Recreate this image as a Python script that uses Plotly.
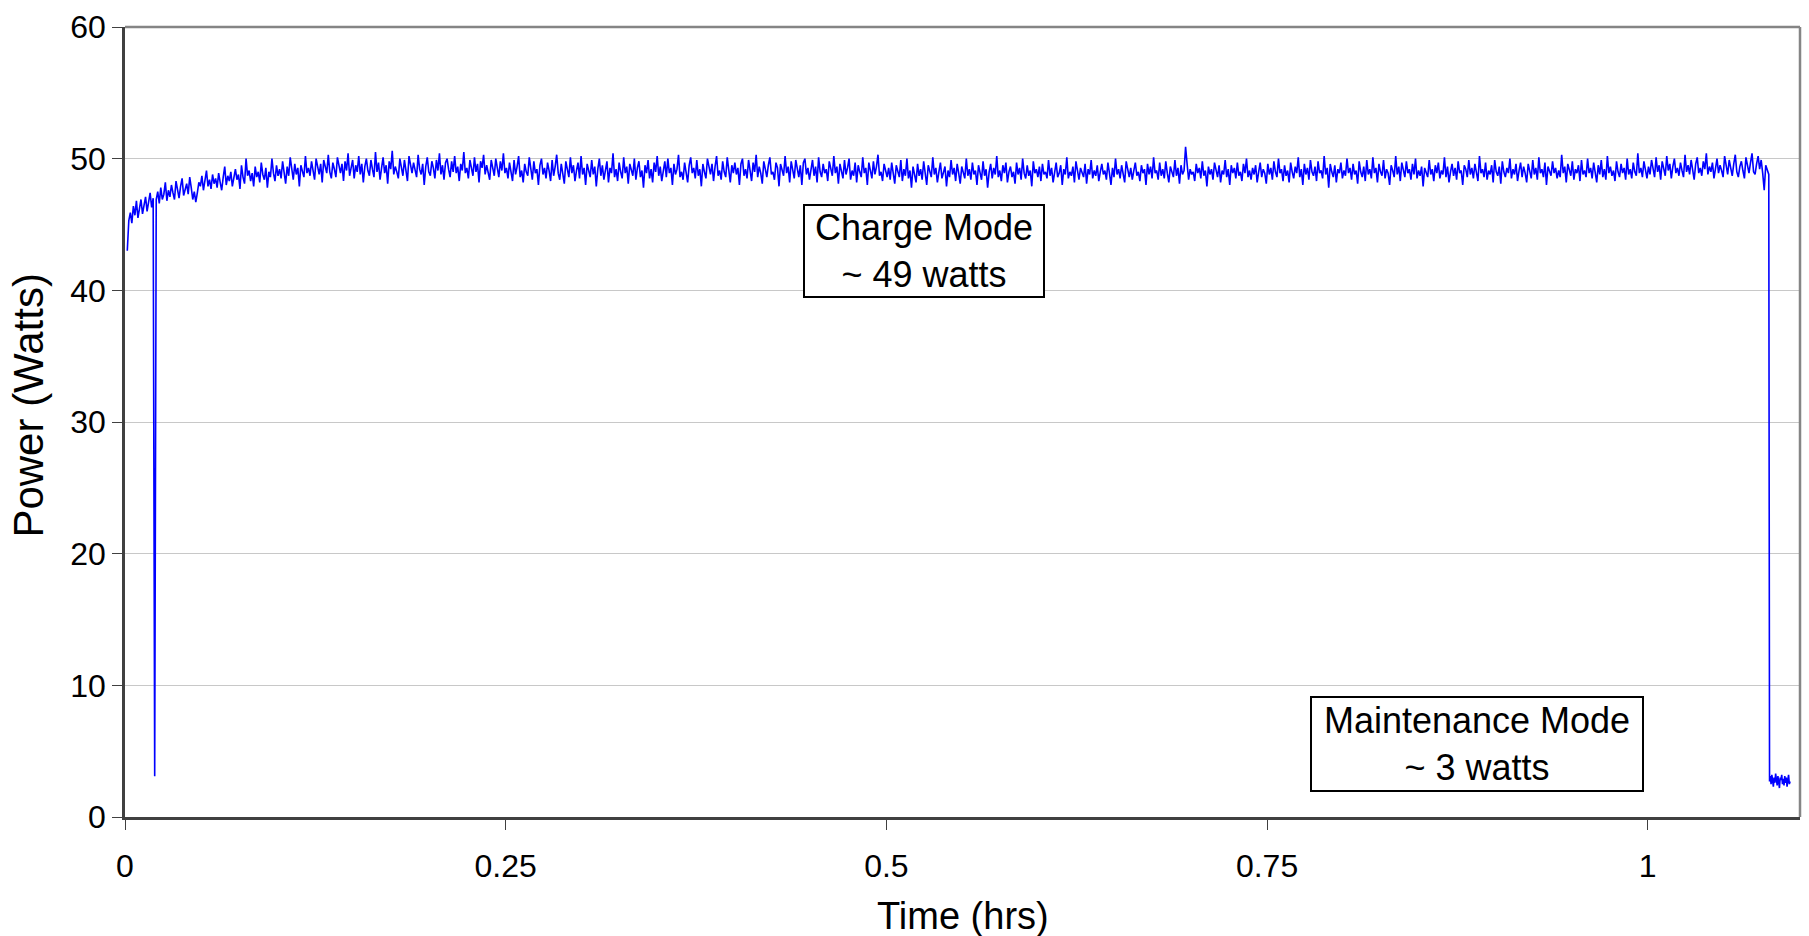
import numpy as np
import plotly.graph_objects as go

# Charge-mode power samples (W), logged every 0.001 h starting at 0.0015 h
CHARGE_START_H = 0.0015
CHARGE_STEP_H = 0.001
charge_w = [
    43.0, 45.3, 45.9, 45.1, 46.4, 45.7, 46.8, 45.5, 46.2, 46.9, 45.8, 46.6, 47.1, 46.0, 46.7, 47.4, 46.3, 47.0, 3.1, 46.9,
    47.5, 46.6, 47.8, 46.9, 47.3, 48.2, 46.8, 47.6, 47.1, 48.0, 47.4, 46.9, 48.3, 47.5, 47.0, 47.9, 48.5, 47.2, 47.7, 48.1,
    47.3, 48.6, 47.8, 46.9, 47.5, 46.7, 47.4, 48.2, 47.9, 48.7, 47.6, 48.3, 49.1, 47.9, 48.4, 47.7, 48.8, 48.1, 48.5, 47.8,
    48.9, 48.2, 47.6, 48.6, 49.4, 48.0, 48.7, 48.3, 49.0, 47.9, 48.5, 49.2, 48.4, 48.8, 47.7, 49.5, 48.6, 48.1, 50.0, 48.7,
    49.1, 48.3, 48.9, 47.9, 49.4, 48.6, 49.0, 48.2, 49.7, 48.8, 48.4, 49.3, 47.8, 49.0, 48.6, 50.0, 48.9, 48.3, 49.5, 48.7,
    49.2, 48.5, 49.8, 48.9, 48.1, 49.4, 48.7, 50.1, 49.0, 48.4, 49.6, 48.8, 49.3, 47.9, 49.5, 49.0, 48.6, 50.2, 48.9, 49.3,
    48.7, 49.8, 49.1, 48.4, 50.0, 49.3, 48.8, 49.6, 48.2, 49.9, 49.4, 48.9, 50.3, 49.0, 48.5, 49.7, 49.2, 48.6, 50.1, 49.4,
    48.9, 49.6, 48.3, 49.8, 49.1, 50.4, 48.7, 49.3, 49.9, 48.5, 49.5, 49.0, 50.2, 48.8, 49.6, 48.2, 49.4, 50.0, 49.1, 48.7,
    49.9, 49.2, 48.6, 50.5, 49.0, 49.7, 48.4, 49.3, 50.1, 48.9, 49.5, 48.1, 49.8, 49.2, 50.6, 48.8, 49.4, 49.0, 48.5, 50.0,
    49.3, 48.7, 49.9, 49.1, 48.3, 50.2, 49.5, 48.9, 49.7, 49.0, 48.6, 50.3, 49.2, 48.8, 49.6, 48.0, 49.4, 50.1, 49.0, 48.7,
    49.8, 49.3, 48.5, 49.9, 49.1, 50.4, 48.8, 49.5, 48.4, 49.7, 50.0, 49.2, 48.6, 49.8, 49.0, 50.2, 48.9, 49.4, 48.3, 49.6,
    49.1, 50.5, 48.9, 49.3, 48.5, 49.9, 49.4, 48.7, 50.1, 49.0, 49.6, 48.2, 49.8, 49.3, 50.3, 48.8, 49.5, 49.0, 48.4, 49.9,
    49.2, 48.7, 50.0, 49.4, 48.6, 49.8, 49.1, 50.4, 48.9, 49.3, 48.5, 49.7, 49.0, 48.3, 49.9, 48.8, 49.4, 50.2, 48.6, 49.1,
    48.2, 49.6, 49.0, 48.7, 50.1, 49.3, 48.4, 49.8, 48.9, 49.2, 48.0, 49.5, 50.0, 48.8, 49.3, 48.5, 49.7, 49.1, 48.3, 49.9,
    48.7, 49.4, 50.3, 48.9, 48.4, 49.6, 49.0, 48.1, 49.8, 49.2, 48.6, 50.1, 48.9, 49.5, 48.3, 49.1, 49.7, 48.5, 50.2, 48.8,
    49.3, 48.0, 49.6, 49.1, 48.6, 49.9, 48.8, 49.4, 47.9, 49.2, 50.0, 48.7, 49.5, 48.4, 49.0, 49.8, 48.2, 49.3, 48.9, 50.4,
    48.6, 49.2, 48.3, 49.7, 49.0, 48.5, 50.1, 48.9, 49.4, 48.1, 49.6, 49.0, 48.7, 50.0, 48.4, 49.3, 49.8, 48.6, 49.1, 47.8,
    49.5, 48.9, 49.9, 48.5, 49.2, 48.2, 49.7, 49.0, 50.2, 48.7, 49.4, 48.3, 49.1, 49.8, 48.6, 50.0, 48.9, 49.3, 48.0, 49.6,
    48.8, 49.2, 50.3, 48.6, 49.0, 48.4, 49.7, 49.1, 48.2, 49.5, 50.1, 48.9, 49.3, 48.5, 49.9, 48.7, 49.2, 47.9, 49.6, 49.0,
    48.5, 50.0, 49.2, 48.8, 49.6, 48.3, 49.4, 50.2, 48.7, 49.1, 48.4, 49.8, 49.0, 48.6, 50.1, 49.3, 48.2, 49.5, 48.9, 49.7,
    48.8, 49.3, 48.0, 49.6, 50.0, 48.7, 49.2, 48.5, 49.9, 49.1, 48.3, 49.7, 49.0, 50.3, 48.6, 49.4, 48.9, 48.1, 49.8, 49.2,
    48.6, 49.5, 50.1, 48.8, 49.0, 48.4, 49.7, 49.3, 47.9, 49.6, 49.1, 48.7, 50.2, 48.9, 49.4, 48.2, 49.8, 49.0, 48.5, 49.9,
    49.2, 48.6, 49.5, 48.0, 49.7, 50.0, 48.8, 49.3, 48.4, 49.1, 49.9, 48.7, 49.4, 48.2, 50.1, 49.0, 48.6, 49.6, 48.9, 49.2,
    48.3, 49.8, 49.1, 48.7, 50.2, 48.9, 49.4, 48.1, 49.6, 49.0, 48.5, 49.9, 48.8, 49.3, 50.0, 48.4, 49.1, 48.7, 49.7, 48.2,
    49.5, 49.0, 48.6, 50.1, 48.9, 49.3, 48.0, 49.7, 49.2, 48.5, 49.8, 48.8, 49.4, 50.3, 48.7, 49.0, 48.3, 49.6, 49.1, 48.6,
    49.3, 48.4, 49.7, 48.8, 48.1, 49.5, 49.0, 48.6, 49.9, 48.3, 49.2, 48.7, 50.0, 48.5, 49.1, 47.8, 49.4, 48.9, 48.2, 49.6,
    48.7, 49.2, 48.4, 49.8, 48.9, 48.0, 49.5, 49.1, 48.6, 50.1, 48.8, 49.3, 48.2, 49.0, 49.7, 48.5, 48.9, 49.4, 47.9, 49.1,
    48.6, 49.9, 48.8, 49.3, 48.3, 49.6, 48.9, 48.1, 49.4, 49.0, 48.5, 50.0, 48.7, 49.2, 48.4, 49.7, 48.8, 49.1, 48.0, 49.5,
    48.9, 48.4, 49.8, 48.7, 49.2, 47.8, 49.0, 49.6, 48.5, 49.3, 48.8, 50.2, 48.6, 49.1, 48.3, 49.5, 48.9, 49.7, 48.2, 49.0,
    49.4, 48.6, 49.0, 48.1, 49.7, 48.8, 49.3, 48.4, 50.0, 48.9, 48.5, 49.5, 48.7, 49.1, 47.9, 49.8, 48.9, 49.2, 48.6, 49.4,
    48.3, 49.6, 48.8, 49.0, 48.5, 49.9, 48.7, 49.3, 48.2, 49.1, 49.7, 48.6, 48.9, 49.5, 48.0, 49.2, 48.8, 50.1, 48.5, 49.0,
    48.7, 49.4, 48.2, 49.8, 48.9, 48.4, 49.3, 49.0, 48.6, 49.6, 48.1, 49.2, 48.8, 49.9, 48.5, 49.1, 48.7, 49.5, 48.3, 49.0,
    49.6, 48.8, 49.1, 48.4, 49.7, 48.9, 48.0, 49.3, 48.6, 50.0, 48.8, 49.2, 48.5, 49.5, 48.9, 48.2, 49.8, 49.0, 48.6, 49.3,
    48.4, 49.1, 49.7, 48.7, 49.0, 48.3, 49.5, 48.9, 49.2, 48.0, 49.6, 48.8, 49.4, 48.5, 50.1, 48.9, 49.1, 48.4, 49.7, 48.7,
    49.2, 48.5, 49.8, 48.9, 48.2, 49.4, 49.0, 48.6, 49.9, 48.7, 49.3, 48.1, 49.5, 48.8, 49.1, 50.9, 49.6, 48.4, 49.2, 48.8,
    49.0, 48.3, 49.6, 48.9, 49.3, 48.5, 49.8, 48.7, 49.1, 47.9, 49.4, 48.8, 49.2, 48.4, 49.7, 49.0, 48.6, 49.5, 48.2, 49.1,
    48.8, 49.9, 48.6, 49.2, 48.0, 49.5, 48.9, 49.3, 48.5, 49.7, 48.7, 49.0, 48.3, 49.6, 48.9, 50.0, 48.6, 49.1, 48.4, 49.3,
    48.8, 49.5, 48.2, 49.0, 49.7, 48.6, 49.2, 48.9, 48.1, 49.6, 48.8, 49.3, 48.4, 49.8, 49.0, 48.6, 50.0, 48.9, 49.2, 48.3,
    49.5, 48.7, 49.1, 48.2, 49.7, 49.0, 48.5, 49.4, 48.9, 50.1, 48.6, 49.2, 48.0, 49.6, 48.8, 49.3, 48.4, 49.9, 49.0, 48.7,
    49.4, 48.3, 49.8, 48.9, 49.1, 48.5, 50.2, 48.8, 49.3, 47.8, 49.6, 49.0, 48.6, 49.5, 48.2, 49.2, 48.9, 49.7, 48.5, 49.1,
    48.7, 50.0, 48.9, 49.3, 48.4, 49.6, 48.8, 49.1, 48.1, 49.8, 49.0, 48.6, 49.4, 48.3, 49.9, 48.8, 49.2, 48.5, 50.1, 48.9,
    49.3, 48.2, 49.6, 49.0, 48.7, 49.9, 48.5, 49.2, 48.9, 48.0, 49.5, 49.1, 48.6, 50.2, 48.8, 49.4, 48.3, 49.7, 49.0, 48.6,
    49.8, 48.9, 49.2, 48.4, 49.6, 48.8, 50.0, 48.5, 49.1, 48.7, 49.4, 47.9, 49.3, 49.0, 48.6, 49.9, 48.8, 49.2, 48.3, 49.5,
    48.9, 49.7, 48.5, 49.1, 48.8, 50.1, 48.6, 49.4, 48.2, 49.0, 49.6, 48.7, 49.3, 48.4, 49.8, 48.9, 49.1, 48.0, 49.5, 49.2,
    48.6, 49.9, 48.8, 49.3, 48.5, 49.6, 49.0, 48.3, 50.2, 48.9, 49.2, 48.6, 49.7, 48.4, 49.1, 48.8, 49.5, 48.2, 49.9, 49.0,
    48.7, 49.4, 48.1, 49.8, 49.0, 48.6, 49.3, 48.9, 50.0, 48.5, 49.2, 48.8, 49.6, 48.3, 49.1, 49.7, 48.6, 49.4, 48.9, 48.2,
    49.6, 49.0, 48.5, 49.9, 48.8, 49.3, 48.4, 50.1, 48.9, 49.2, 48.6, 49.7, 48.0, 49.4, 49.0, 48.7, 49.8, 48.9, 49.3, 48.5,
    49.1, 48.6, 50.3, 48.9, 49.4, 48.2, 49.6, 49.0, 48.7, 49.8, 48.4, 49.2, 48.9, 49.5, 48.3, 49.9, 48.8, 49.1, 48.6, 50.0,
    48.9, 49.3, 48.5, 49.7, 49.1, 48.2, 49.5, 48.8, 49.9, 48.6, 49.2, 48.4, 50.2, 48.9, 49.4, 48.7, 49.1, 48.3, 49.8, 49.0,
    48.6, 49.6, 48.9, 49.3, 48.4, 50.0, 48.8, 49.2, 48.5, 49.7, 49.0, 48.7, 50.4, 48.9, 49.3, 48.6, 49.8, 49.1, 48.5, 49.4,
    48.8, 49.9, 49.2, 48.6, 50.1, 49.0, 49.5, 48.4, 49.8, 49.3, 48.7, 50.2, 49.1, 49.6, 48.5, 49.4, 50.0, 48.9, 49.3, 48.7,
    49.7, 49.1, 48.6, 50.3, 49.0, 49.5, 48.8, 49.9, 49.2, 48.4, 49.6, 50.1, 48.9, 49.3, 48.7, 49.8, 49.2, 50.4, 48.8, 49.4,
    49.0, 49.7, 48.5, 49.3, 50.0, 48.9, 49.5, 49.1, 48.6, 50.2, 49.3, 48.8, 49.9, 49.2, 48.7, 49.6, 50.3, 49.0, 48.6, 49.4,
    49.8, 49.1, 48.5, 50.1, 49.3, 48.9, 49.7, 50.4, 49.0, 48.8, 49.6, 50.2, 49.2, 49.9, 48.9, 47.6, 49.5, 49.1, 48.8,
]

# Maintenance-mode power samples (W), logged every 0.0005 h from 1.08 h
MAINT_START_H = 1.0800
MAINT_STEP_H = 0.0005
maint_w = [
    2.7, 3.1, 2.5, 3.2, 2.8, 2.3, 3.0, 2.6, 3.3, 2.9,
    2.4, 3.1, 2.7, 2.2, 3.0, 2.8, 3.2, 2.5, 2.9, 2.4,
    3.1, 2.6, 3.0, 2.3, 2.8, 3.2, 2.5, 2.7,
]

x_tick_vals = [0, 0.25, 0.5, 0.75, 1]
x_tick_text = ["0", "0.25", "0.5", "0.75", "1"]
y_tick_vals = [0, 10, 20, 30, 40, 50, 60]

t_charge = CHARGE_START_H + CHARGE_STEP_H * np.arange(len(charge_w))
t_maint = MAINT_START_H + MAINT_STEP_H * np.arange(len(maint_w))
time_h = np.concatenate([t_charge, t_maint])
power_w = np.concatenate([charge_w, maint_w])

FONT = "Liberation Sans, Arial, sans-serif"
AXIS_DARK = "#404040"
BORDER_GRAY = "#858585"

fig = go.Figure()
fig.add_trace(go.Scatter(
    x=time_h, y=power_w, mode="lines",
    line=dict(color="#0000FF", width=1.6),
    showlegend=False, hoverinfo="x+y",
))

fig.update_layout(
    width=1809, height=936,
    margin=dict(l=125, r=9, t=22, b=119),
    paper_bgcolor="white", plot_bgcolor="white",
    font=dict(family=FONT, color="black"),
    xaxis=dict(
        range=[0, 1.1], tickvals=x_tick_vals, ticktext=x_tick_text,
        showgrid=False, zeroline=False,
        showline=True, linecolor=AXIS_DARK, linewidth=2.5,
        ticks="outside", ticklen=10, tickwidth=1, tickcolor=AXIS_DARK,
        tickfont=dict(size=32, family=FONT), ticklabelstandoff=9,
    ),
    yaxis=dict(
        range=[0, 60], tickvals=y_tick_vals,
        showgrid=True, gridcolor="#c8c8c8", gridwidth=1, zeroline=False,
        showline=True, linecolor=AXIS_DARK, linewidth=2.5,
        ticks="outside", ticklen=10, tickwidth=1, tickcolor=AXIS_DARK,
        tickfont=dict(size=32, family=FONT),
    ),
    shapes=[
        dict(type="line", xref="paper", yref="paper", x0=0, x1=1, y0=1, y1=1,
             line=dict(color=BORDER_GRAY, width=2.5)),
        dict(type="line", xref="paper", yref="paper", x0=1, x1=1, y0=0, y1=1,
             line=dict(color=BORDER_GRAY, width=2.5)),
    ],
    annotations=[
        # axis titles
        dict(x=0.5003, y=-0.1258, xref="paper", yref="paper",
             text="Time (hrs)", showarrow=False,
             xanchor="center", yanchor="middle",
             font=dict(size=38, family=FONT, color="black")),
        dict(x=-0.0573, y=0.5208, xref="paper", yref="paper",
             text="Power (Watts)", showarrow=False, textangle=-90,
             xanchor="center", yanchor="middle",
             font=dict(size=42, family=FONT, color="black")),
        # mode labels
        dict(x=0.5249, y=42.97, xref="x", yref="y",
             text="Charge Mode<br>~ 49 watts", showarrow=False,
             font=dict(size=36, family=FONT, color="black"),
             bgcolor="white", bordercolor="black", borderwidth=2,
             borderpad=1, width=236, align="center"),
        dict(x=0.8882, y=5.55, xref="x", yref="y",
             text="Maintenance Mode<br>~ 3 watts", showarrow=False,
             font=dict(size=36, family=FONT, color="black"),
             bgcolor="white", bordercolor="black", borderwidth=2,
             borderpad=2, width=326, align="center"),
    ],
)

fig.write_html("out.html")
